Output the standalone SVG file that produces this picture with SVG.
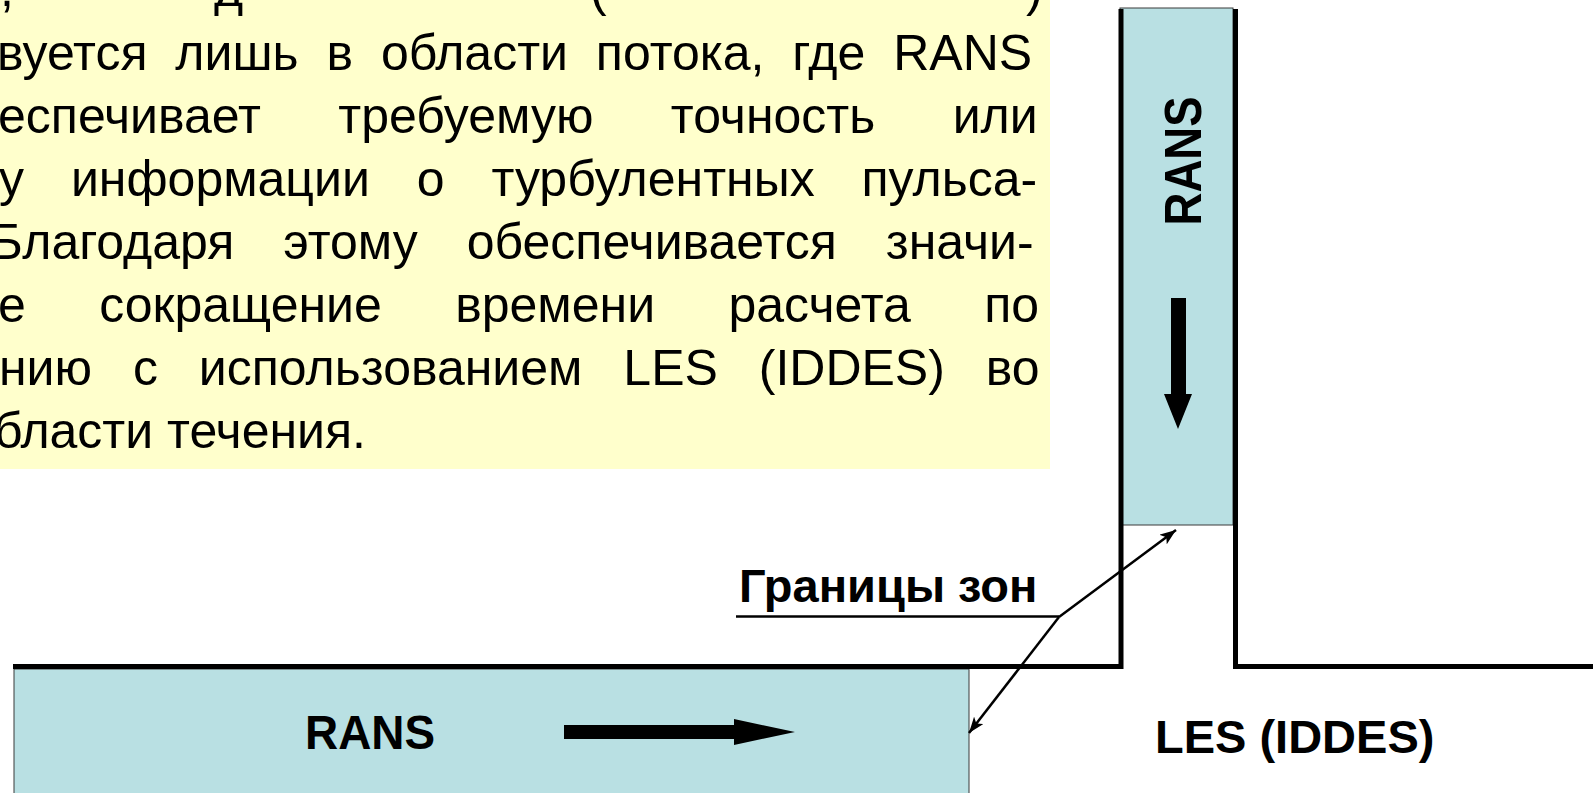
<svg xmlns="http://www.w3.org/2000/svg" width="1593" height="793" viewBox="0 0 1593 793">
  <style>
    .body { font-family: "Liberation Sans", Arial, sans-serif; font-size: 50px; fill: #000; }
    .label { font-family: "Liberation Sans", Arial, sans-serif; font-weight: bold; fill: #000; }
    .zone { fill: #B9E0E3; stroke: #3a3a3a; stroke-width: 1; }
    .wall { fill: none; stroke: #000; stroke-width: 5; stroke-linejoin: miter; stroke-linecap: butt; }
    .lead { fill: none; stroke: #000; stroke-width: 2.5; }
  </style>
  <defs>
    <marker id="tip" viewBox="0 0 16 12" refX="16" refY="6" markerWidth="16" markerHeight="12" markerUnits="userSpaceOnUse" orient="auto">
      <path d="M0,0 L16,6 L0,12 L4,6 Z" fill="#000"/>
    </marker>
  </defs>

  <rect width="1593" height="793" fill="#fff"/>

  <!-- explanatory note, justified lines -->
  <g id="note">
    <rect x="0" y="0" width="1050" height="469" fill="#FFFFCC"/>
    <text class="body" y="6"><tspan x="0">,</tspan><tspan x="214">д</tspan><tspan x="590">(</tspan><tspan x="1026">)</tspan></text>
    <text class="body" x="-3" y="70" word-spacing="14">вуется лишь в  области потока, где RANS</text>
    <text class="body" x="-2" y="133" word-spacing="63.5">еспечивает требуемую точность или</text>
    <text class="body" x="-1" y="196" word-spacing="33">у информации о турбулентных пульса-</text>
    <text class="body" x="-10" y="259" word-spacing="35">Благодаря этому обеспечивается значи-</text>
    <text class="body" x="-2" y="322" word-spacing="59.5">е сокращение времени расчета по</text>
    <text class="body" x="-1" y="385" word-spacing="27">нию с использованием LES (IDDES) во</text>
    <text class="body" x="-6" y="448">бласти течения.</text>
  </g>

  <!-- RANS zone along the main channel -->
  <g id="rans-horizontal">
    <rect class="zone" x="14" y="669" width="955" height="130"/>
    <text class="label" x="370" y="749" font-size="48" text-anchor="middle" textLength="130" lengthAdjust="spacingAndGlyphs">RANS</text>
    <polygon points="564,725 734,725 734,719 795,732 734,745 734,739 564,739" fill="#000"/>
  </g>

  <!-- RANS zone in the branch -->
  <g id="rans-vertical">
    <rect class="zone" x="1120" y="8" width="113" height="517"/>
    <text class="label" transform="translate(1201,161) rotate(-90)" x="0" y="0" font-size="52" text-anchor="middle" textLength="129" lengthAdjust="spacingAndGlyphs">RANS</text>
    <polygon points="1171,298 1186,298 1186,394 1192,394 1178,429 1164,394 1171,394" fill="#000"/>
  </g>

  <!-- channel walls -->
  <g id="walls">
    <path class="wall" d="M13,666.5 H1121 V9"/>
    <path class="wall" d="M1235.5,9 V666.5 H1593"/>
  </g>

  <g id="les">
    <text class="label" x="1155" y="753" font-size="47">LES (IDDES)</text>
  </g>

  <g id="zone-boundaries">
    <text class="label" x="739" y="602" font-size="47">Границы зон</text>
  </g>

  <!-- leader lines to the zone boundaries -->
  <g id="connectors">
    <line class="lead" x1="736" y1="616.5" x2="1059" y2="616.5" stroke-width="3"/>
    <line class="lead" x1="1059" y1="617" x2="1176" y2="530" marker-end="url(#tip)"/>
    <line class="lead" x1="1059" y1="617" x2="969" y2="733" marker-end="url(#tip)"/>
  </g>
</svg>
